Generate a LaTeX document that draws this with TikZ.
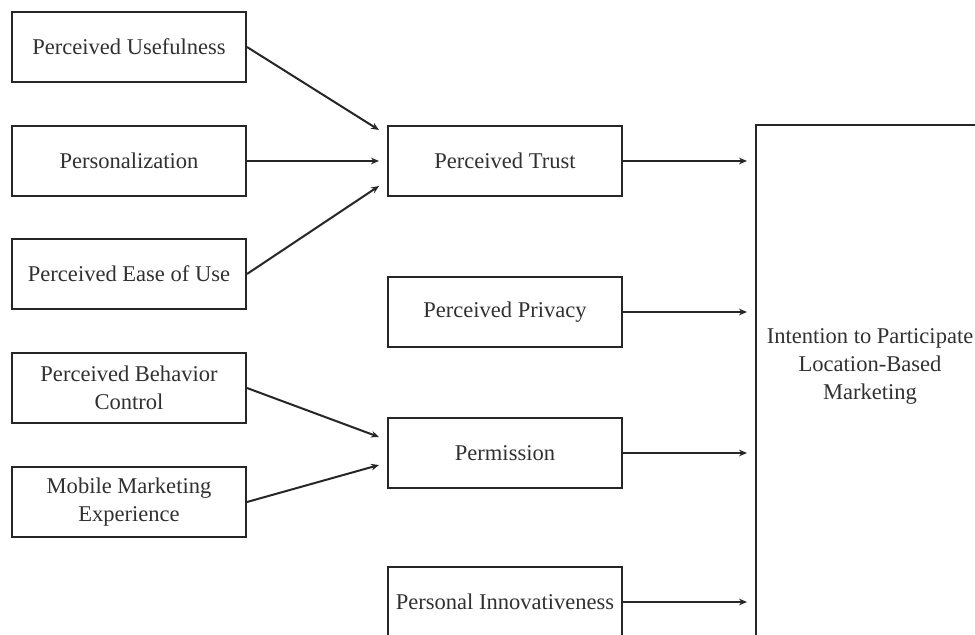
\documentclass[tikz,border=0pt]{standalone}
\usepackage{fontspec}
\setmainfont{Liberation Serif}
\usetikzlibrary{arrows.meta}
\definecolor{ink}{HTML}{262626}
\definecolor{txt}{HTML}{303030}
\begin{document}
\begin{tikzpicture}[x=0.75pt,y=-0.75pt,
  box/.style={draw=ink,line width=1.5pt,minimum width=175.5pt,minimum height=52pt,inner sep=0pt,
    align=center,text=txt,font=\fontsize{16.9}{21}\selectfont},
  arr/.style={draw=ink,line width=1.5pt,-{Stealth[length=6pt,width=5pt,inset=2pt]}}]
\useasboundingbox (0,0) rectangle (975,635);
\clip (0,0) rectangle (975,635);
% left column
\node[box] (pu) at (129,47) {Perceived Usefulness};
\node[box] (pe) at (129,161) {Personalization};
\node[box] (peou) at (129,274) {Perceived Ease of Use};
\node[box] (pbc) at (129,388) {Perceived Behavior\\Control};
\node[box] (mme) at (129,502) {Mobile Marketing\\Experience};
% middle column
\node[box] (pt) at (505,161) {Perceived Trust};
\node[box] (pp) at (505,312) {Perceived Privacy};
\node[box] (pm) at (505,453) {Permission};
\node[box] (pi) at (505,602) {Personal Innovativeness};
% outcome
\node[draw=ink,line width=1.5pt,minimum width=180pt,minimum height=405pt,anchor=north west,inner sep=0pt] (ilbm) at (755,124) {};
\node[align=center,text=txt,font=\fontsize{16.9}{21}\selectfont] (ilbmtxt) at (870,366) {Intention to Participate\\Location-Based\\Marketing};
% connectors
\draw[arr] (pu.east) -- ([shift={(-8,-31)}]pt.west);
\draw[arr] (pe.east) -- ([shift={(-8,0)}]pt.west);
\draw[arr] (peou.east) -- ([shift={(-8,25)}]pt.west);
\draw[arr] (pbc.east) -- ([shift={(-8,-16)}]pm.west);
\draw[arr] (mme.east) -- ([shift={(-8,12)}]pm.west);
\draw[arr] (pt.east) -- ([xshift=-6pt]ilbm.west |- pt.east);
\draw[arr] (pp.east) -- ([xshift=-6pt]ilbm.west |- pp.east);
\draw[arr] (pm.east) -- ([xshift=-6pt]ilbm.west |- pm.east);
\draw[arr] (pi.east) -- ([xshift=-6pt]ilbm.west |- pi.east);
\end{tikzpicture}
\end{document}
